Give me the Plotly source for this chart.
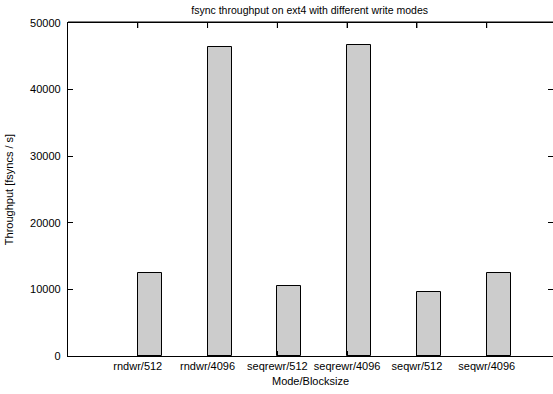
import plotly.graph_objects as go

categories = ["rndwr/512", "rndwr/4096", "seqrewr/512", "seqrewr/4096", "seqwr/512", "seqwr/4096"]
throughput = [12520, 46390, 10520, 46630, 9570, 12430]
y_ticks = [0, 10000, 20000, 30000, 40000, 50000]
y_tick_labels = ["0", "10000", "20000", "30000", "40000", "50000"]

FONT = "Liberation Sans, Arial, Helvetica, sans-serif"

fig = go.Figure()
fig.add_trace(go.Bar(
    x=categories, y=throughput,
    offset=0, width=0.345,
    marker=dict(color="#cccccc", line=dict(color="black", width=1)),
    showlegend=False,
    cliponaxis=False,
))

# top border of the plot box
fig.add_shape(type="line", xref="paper", yref="paper", x0=0, x1=1, y0=1.002, y1=1.002,
              line=dict(color="black", width=1.5), layer="above")
# inward tick marks on the top border, one per category
for c in categories:
    fig.add_shape(type="line", xref="x", yref="paper", x0=c, x1=c,
                  ysizemode="pixel", yanchor=1, y0=0, y1=-5,
                  line=dict(color="black", width=1), layer="above")

fig.update_layout(
    width=553, height=394,
    margin=dict(l=68, r=0, t=23, b=38, autoexpand=False),
    paper_bgcolor="white", plot_bgcolor="white",
    font=dict(family=FONT, size=11, color="black"),
    title=dict(text="fsync throughput on ext4 with different write modes",
               x=0.56, xanchor="center", y=0.975, yanchor="middle",
               font=dict(size=10.5, family=FONT, color="black")),
    xaxis=dict(
        type="category", categoryorder="array", categoryarray=categories,
        range=[-1, 5.95], automargin=False,
        showline=True, linecolor="black", linewidth=1.2, mirror="ticks",
        ticks="inside", ticklen=5, tickcolor="black",
        showgrid=False, zeroline=False,
        title=dict(text="Mode/Blocksize", standoff=6, font=dict(size=11)),
        tickfont=dict(size=11),
    ),
    yaxis=dict(
        range=[0, 50000], tickvals=y_ticks, ticktext=y_tick_labels, automargin=False,
        showline=True, linecolor="black", linewidth=1.2, mirror="ticks",
        ticks="inside", ticklen=5, tickcolor="black",
        showgrid=False, zeroline=False,
        title=dict(text="Throughput [fsyncs / s]", standoff=14, font=dict(size=11)),
        tickfont=dict(size=11),
        ticklabelstandoff=4,
    ),
    bargap=0,
)

fig.write_html(
    "out.html",
    config={"displayModeBar": False},
    post_script="document.body.style.margin='0';document.body.style.overflow='hidden';",
)
